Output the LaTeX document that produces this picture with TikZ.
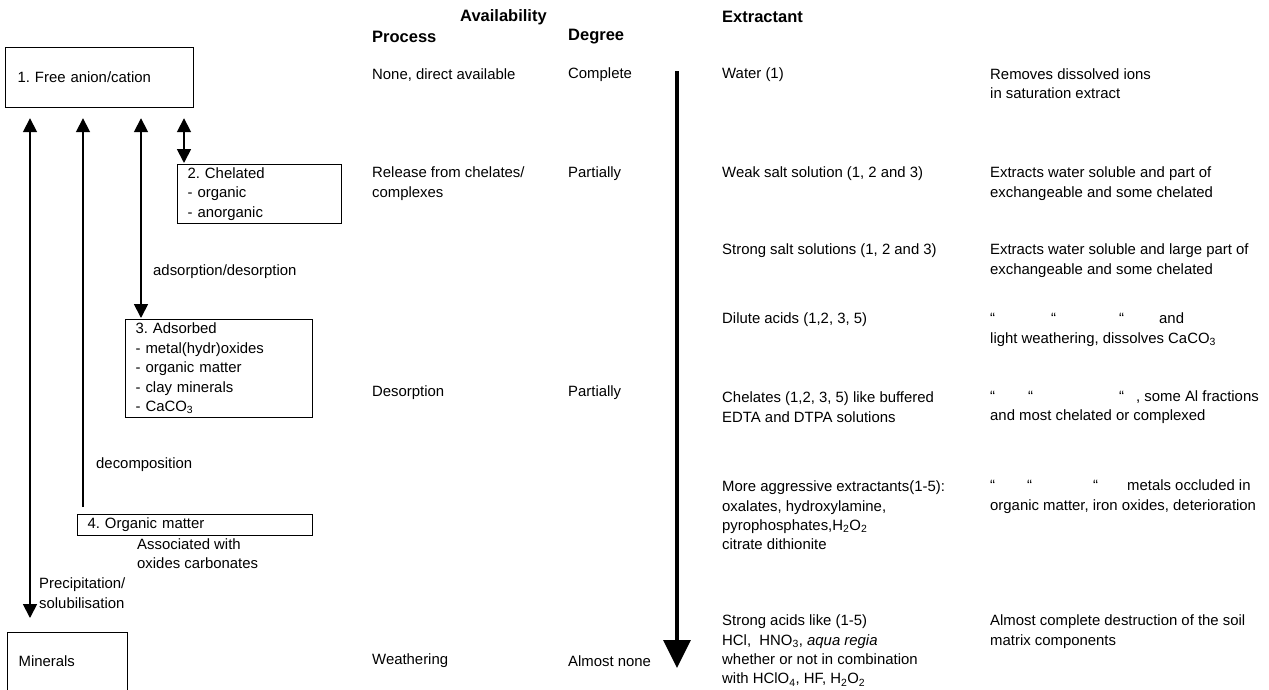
\documentclass[tikz,border=0pt]{standalone}
\usepackage{fontspec}
\setmainfont{Liberation Sans}
\usetikzlibrary{arrows.meta}
\frenchspacing
\begin{document}
\begin{tikzpicture}[x=1pt,y=-1pt,
  txt/.style={anchor=west, inner sep=0pt, align=left, font=\fontsize{14.9}{19.4}\selectfont},
  head/.style={anchor=west, inner sep=0pt, font=\fontsize{16.5}{19}\selectfont\bfseries},
  box/.style={draw, line width=1.2pt, anchor=north west, align=left, inner ysep=0pt,
              font=\fontsize{14.9}{19.4}\selectfont},
  link/.style={line width=1.8pt, -{Triangle[width=14pt,length=14pt]}},
  twoway/.style={line width=1.8pt, {Triangle[width=14pt,length=14pt]}-{Triangle[width=14pt,length=14pt]}},
  gradient arrow/.style={line width=3.5pt, -{Triangle[width=27pt,length=28pt]}}
]
\useasboundingbox (0,0) rectangle (1269,689);
\fill[white] (0,0) rectangle (1269,689);

% ---- pools of the element (left part) ----
\node[box, minimum width=188pt, minimum height=60pt, text width=164pt, inner xsep=12pt] (free) at (5,47) {1. Free anion/cation};
\node[box, minimum width=164pt, minimum height=59pt, text width=144pt, inner xsep=10pt] (chel) at (177,164) {2. Chelated\\- organic\\- anorganic};
\node[box, minimum width=187pt, minimum height=98pt, text width=167pt, inner xsep=10pt] (ads) at (125,319) {3. Adsorbed\\- metal(hydr)oxides\\- organic matter\\- clay minerals\\- CaCO\textsubscript{3}};
\node[box, minimum width=235pt, minimum height=21pt, text width=215pt, inner xsep=10pt] (org) at (77,514) {4. Organic matter};
\node[box, minimum width=120pt, minimum height=58pt, text width=98pt, inner xsep=11pt] (min) at (7,632) {Minerals};

% exchanges between the pools
\draw[twoway] ([xshift=25pt,yshift=-10pt]free.south west) -- ([xshift=23pt,yshift=14pt]min.north west);
\draw[link] ([xshift=6pt,yshift=7pt]org.north west) -- ([xshift=78pt,yshift=-10pt]free.south west);
\draw[twoway] ([xshift=136pt,yshift=-10pt]free.south west) -- ([xshift=16pt,yshift=1pt]ads.north west);
\draw[twoway] ([xshift=179pt,yshift=-10pt]free.south west) -- ([xshift=7pt,yshift=1pt]chel.north west);

\node[txt] (lads) at (153,272) {adsorption/desorption};
\node[txt] (ldec) at (96,465) {decomposition};
\node[txt] (lass) at (137,553.5) {Associated with\\oxides carbonates};
\node[txt] (lpre) at (39,593) {Precipitation/\\solubilisation};

% ---- column headings ----
\node[head] (hav) at (460,17) {Availability};
\node[head] (hpr) at (372,37) {Process};
\node[head] (hde) at (568,37) {Degree};
\node[head] (hex) at (722,17) {Extractant};

% ---- process column ----
\node[txt] (p1) at (372,75) {None, direct available};
\node[txt] (p2) at (372,183.5) {Release from chelates/\\complexes};
\node[txt] (p3) at (372,393) {Desorption};
\node[txt] (p4) at (372,661) {Weathering};

% ---- degree column ----
\node[txt] (d1) at (568,75) {Complete};
\node[txt] (d2) at (568,174) {Partially};
\node[txt] (d3) at (568,393) {Partially};
\node[txt] (d4) at (568,661) {Almost none};

% ---- increasing strength of the extractant ----
\coordinate (gtop) at (677,71);
\coordinate (gbot) at (677,668);
\draw[gradient arrow] (gtop) -- (gbot);

% ---- extractant column ----
\node[txt] (e1) at (722,75) {Water (1)};
\node[txt] (e2) at (722,174) {Weak salt solution (1, 2 and 3)};
\node[txt] (e3) at (722,251) {Strong salt solutions (1, 2 and 3)};
\node[txt] (e4) at (722,320) {Dilute acids (1,2, 3, 5)};
\node[txt] (e5) at (722,407) {Chelates (1,2, 3, 5) like buffered\\EDTA and DTPA solutions};
\node[txt] (e6) at (722,515.5) {More aggressive extractants(1-5):\\oxalates, hydroxylamine,\\pyrophosphates,H\textsubscript{2}O\textsubscript{2}\\citrate dithionite};
\node[txt] (e7) at (722,650.5) {Strong acids like (1-5)\\HCl,\ \ HNO\textsubscript{3}, \textit{aqua regia}\\whether or not in combination\\with HClO\textsubscript{4}, HF, H\textsubscript{2}O\textsubscript{2}};

% ---- effect column ----
\node[txt] (f1) at (990,83.5) {Removes dissolved ions\\in saturation extract};
\node[txt] (f2) at (990,183.5) {Extracts water soluble and part of\\exchangeable and some chelated};
\node[txt] (f3) at (990,260.5) {Extracts water soluble and large part of\\exchangeable and some chelated};
\node[txt] (f4) at (990,329.5) {\makebox[61pt][l]{“}\makebox[68pt][l]{“}\makebox[40pt][l]{“}and\\light weathering, dissolves CaCO\textsubscript{3}};
\node[txt] (f5) at (990,407) {\makebox[38pt][l]{“}\makebox[91pt][l]{“}\makebox[17pt][l]{“}, some Al fractions\\and most chelated or complexed};
\node[txt] (f6) at (990,496.5) {\makebox[37pt][l]{“}\makebox[66pt][l]{“}\makebox[34pt][l]{“}metals occluded in\\organic matter, iron oxides, deterioration};
\node[txt] (f7) at (990,631.5) {Almost complete destruction of the soil\\matrix components};
\end{tikzpicture}
\end{document}
